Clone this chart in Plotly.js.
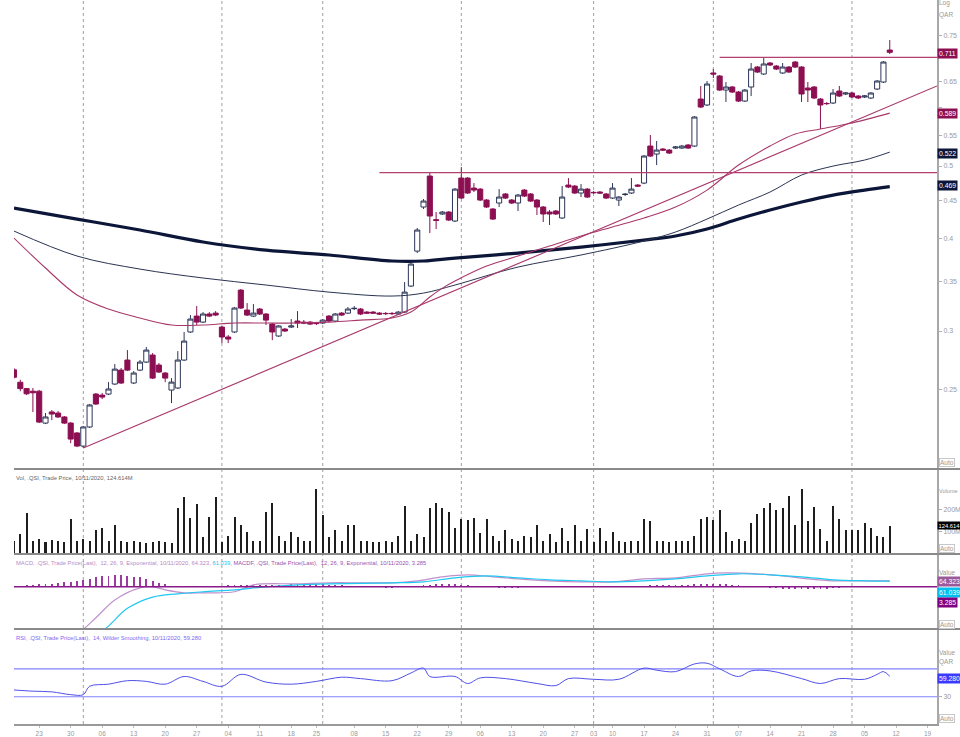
<!DOCTYPE html>
<html><head><meta charset="utf-8">
<script src="https://cdn.plot.ly/plotly-3.0.1.min.js"></script>
<style>html,body{margin:0;padding:0;background:#fff;overflow:hidden}#chart{width:960px;height:737px}</style>
</head><body><div id="chart"></div>
<script>
// ---- Price data (QAR), daily candles ----
const openP  = [0.266,0.256,0.251,0.249,0.249,0.2256,0.2335,0.2327,0.2299,0.2256,0.2188,0.2101,0.2229,0.2468,0.246,0.2468,0.2546,0.2658,0.2742,0.2554,0.2658,0.2725,0.2785,0.27,0.2634,0.2499,0.2515,0.2742,0.2991,0.3142,0.3084,0.3162,0.3171,0.3037,0.2945,0.2991,0.3405,0.3201,0.3142,0.3211,0.3162,0.3065,0.2954,0.3018,0.3037,0.3094,0.3084,0.3084,0.3075,0.3075,0.3142,0.3094,0.3171,0.3171,0.3215,0.3211,0.3181,0.3181,0.3171,0.3168,0.3168,0.3162,0.3181,0.3448,0.3842,0.4404,0.4847,0.4235,0.431,0.4336,0.4217,0.4817,0.4817,0.467,0.4655,0.45,0.4377,0.4459,0.4585,0.45,0.4459,0.4641,0.4585,0.45,0.4404,0.4336,0.435,0.4257,0.4714,0.4699,0.4599,0.4655,0.4608,0.4613,0.4585,0.4528,0.45,0.4578,0.4599,0.4714,0.4743,0.5319,0.5189,0.527,0.5253,0.5286,0.5286,0.5336,0.5319,0.6152,0.604,0.6669,0.6607,0.6326,0.6386,0.6287,0.6114,0.6386,0.6793,0.6648,0.6878,0.6814,0.6669,0.6793,0.6899,0.6793,0.6366,0.6386,0.6152,0.6068,0.6077,0.6307,0.6249,0.6268,0.621,0.6191,0.6172,0.6346,0.6485,0.716];
const highP  = [0.2675,0.258,0.2515,0.2515,0.25,0.2327,0.2349,0.2342,0.2306,0.2263,0.2194,0.2236,0.2393,0.2476,0.2476,0.2561,0.2708,0.2675,0.2828,0.265,0.2742,0.2855,0.2802,0.2717,0.2642,0.2593,0.2819,0.2991,0.3152,0.3241,0.3181,0.3181,0.3191,0.3047,0.2963,0.3231,0.3416,0.3271,0.3261,0.3221,0.3171,0.3075,0.3056,0.3028,0.3113,0.3191,0.3103,0.3094,0.3084,0.3113,0.3152,0.3171,0.3181,0.3231,0.3241,0.3221,0.3191,0.3191,0.3181,0.3181,0.3181,0.3191,0.3491,0.3714,0.4127,0.4514,0.4893,0.4336,0.435,0.435,0.467,0.4984,0.4832,0.4743,0.467,0.4514,0.439,0.4655,0.4599,0.4514,0.4585,0.4655,0.4599,0.4514,0.4418,0.4363,0.4363,0.4699,0.4817,0.4714,0.4728,0.467,0.4627,0.4627,0.4599,0.4743,0.4556,0.4599,0.4817,0.4728,0.5173,0.5504,0.5402,0.5286,0.527,0.5319,0.5336,0.5353,0.5837,0.6406,0.6505,0.6751,0.6628,0.6485,0.6406,0.6307,0.6346,0.6878,0.6814,0.7007,0.6899,0.6836,0.6878,0.6814,0.692,0.6814,0.6485,0.6406,0.6172,0.6096,0.6346,0.6406,0.6287,0.6287,0.6229,0.6229,0.6287,0.6525,0.692,0.7385];
const lowP   = [0.259,0.249,0.246,0.2335,0.2256,0.2249,0.2277,0.2292,0.2249,0.212,0.2094,0.2088,0.2222,0.2386,0.243,0.246,0.2538,0.2546,0.265,0.2546,0.265,0.2717,0.2585,0.2634,0.2561,0.24,0.2507,0.2734,0.2982,0.3056,0.3075,0.3132,0.3142,0.289,0.289,0.2982,0.3211,0.3142,0.3132,0.3152,0.3056,0.2917,0.2945,0.2991,0.3028,0.3028,0.3065,0.3056,0.3056,0.3065,0.3084,0.3084,0.3142,0.3162,0.3201,0.3152,0.3162,0.3162,0.3152,0.3152,0.3152,0.3152,0.3171,0.3437,0.3819,0.4377,0.4063,0.4114,0.4297,0.4217,0.4204,0.4514,0.4585,0.4613,0.4486,0.439,0.423,0.4404,0.4514,0.4445,0.435,0.4542,0.4473,0.4297,0.4204,0.4165,0.4297,0.4243,0.467,0.4585,0.4542,0.4528,0.4585,0.4585,0.4514,0.4514,0.4418,0.4556,0.4585,0.4685,0.4728,0.5141,0.5015,0.5237,0.5189,0.527,0.527,0.527,0.5303,0.5983,0.6021,0.6566,0.6307,0.6096,0.6268,0.6096,0.6096,0.621,0.6669,0.6628,0.6814,0.673,0.6648,0.6669,0.6772,0.6096,0.6096,0.6152,0.5607,0.604,0.6058,0.6191,0.6229,0.6172,0.6152,0.6172,0.6152,0.6326,0.6465,0.7073];
const closeP = [0.26,0.251,0.247,0.2478,0.2263,0.2299,0.232,0.2299,0.2256,0.2147,0.2101,0.2229,0.2386,0.2393,0.2445,0.2507,0.2666,0.2554,0.2658,0.2634,0.2725,0.2828,0.2593,0.2642,0.2593,0.2561,0.2742,0.2908,0.3113,0.3084,0.3162,0.3142,0.3152,0.2945,0.2926,0.3221,0.3221,0.3152,0.3171,0.3162,0.3103,0.2991,0.3047,0.3,0.3047,0.3075,0.3075,0.3065,0.307,0.3103,0.3094,0.3162,0.3152,0.3211,0.3218,0.3162,0.3171,0.3171,0.3162,0.3166,0.3166,0.3181,0.3384,0.3691,0.4101,0.4486,0.4283,0.4225,0.4336,0.423,0.4655,0.4528,0.4599,0.4641,0.45,0.4404,0.4243,0.4542,0.4528,0.4459,0.457,0.4556,0.4486,0.4404,0.431,0.431,0.431,0.4542,0.4685,0.4599,0.4655,0.4542,0.4604,0.4599,0.4528,0.467,0.4542,0.4582,0.4655,0.4699,0.5157,0.5157,0.5253,0.5253,0.5205,0.5303,0.5319,0.5286,0.5819,0.6002,0.6445,0.6648,0.6326,0.6386,0.6287,0.6114,0.6326,0.6751,0.6689,0.6857,0.6836,0.6751,0.6793,0.6689,0.6793,0.6249,0.6326,0.6172,0.604,0.6066,0.6268,0.621,0.6268,0.6191,0.6172,0.621,0.6268,0.6505,0.6899,0.711];

// ---- Moving averages read at sample days ----
const maLongDay = [0,10,20,30,40,50,60,65,70,80,90,100,105,110,115,120,125,130,135,139];
const maLongVal = [0.439,0.4243,0.4101,0.3952,0.3854,0.3796,0.3726,0.3726,0.376,0.3819,0.389,0.3976,0.4026,0.4114,0.4243,0.4363,0.4473,0.457,0.4641,0.469];
const maMidDay = [0,10,20,30,40,50,60,65,70,80,90,100,105,110,115,120,125,130,135,139];
const maMidVal = [0.4088,0.3784,0.3634,0.3535,0.3459,0.3384,0.3343,0.3374,0.3459,0.3657,0.3796,0.3964,0.4076,0.4243,0.4431,0.4613,0.4862,0.4999,0.5093,0.522];
const maShortDay = [0,5,10,15,20,25,30,35,40,45,50,55,60,63,66,68,70,75,80,85,90,95,100,105,110,115,120,124,128,133,139];
const maShortVal = [0.4001,0.3646,0.3354,0.3211,0.3123,0.3056,0.3056,0.3075,0.3075,0.3075,0.3084,0.3103,0.3123,0.3181,0.3333,0.3426,0.3502,0.3668,0.3784,0.3903,0.4026,0.414,0.4257,0.4404,0.4641,0.5015,0.5319,0.5521,0.5607,0.5713,0.589];
// drawn trend line & horizontal levels
const trendDay = [11,146.5];
const trendVal = [0.2088,0.6406];
const levelLowDay = [58,146.5], levelLow = [0.49,0.49];
const levelHighDay = [112,146.5], levelHigh = [0.70,0.70];

// ---- Volume (millions) ----
const volume = [60,90,185,60,70,55,65,60,55,160,60,70,60,110,120,60,130,60,55,60,55,50,55,60,55,50,210,260,165,225,75,170,260,55,80,170,130,100,60,60,190,230,80,60,100,75,60,60,295,175,75,110,60,130,130,60,60,55,55,60,55,80,220,60,90,75,210,230,210,190,120,160,155,165,95,160,80,60,110,70,60,80,75,130,60,90,55,120,60,130,60,115,55,120,60,100,60,55,60,60,160,150,60,60,55,60,60,60,80,160,170,155,200,100,60,70,60,140,180,210,230,200,210,265,130,295,150,215,115,60,220,160,110,110,110,140,120,80,75,125];

// ---- MACD (12,26,9) ----
const macdDay = [0,5,10,13,16,20,22,24,27,30,35,38,45,50,55,60,64,68,72,76,80,85,90,95,100,105,110,113,118,122,126,130,135,139];
const macdVal = [-600,-600,-500,-330,-140,-11,0,-32,-64,-64,-53,21,32,43,43,43,64,107,128,107,85,64,53,53,85,96,139,149,139,117,85,64,64,64.323];
const signalDay = [0,10,14,18,22,26,30,35,40,45,50,60,65,70,75,80,85,90,95,100,105,110,115,120,125,130,135,139];
const signalVal = [-500,-560,-470,-230,-110,-75,-53,-32,0,21,32,43,53,96,117,96,75,64,53,64,85,117,139,128,107,75,64,61.039];
const macdHist = [10,10,15,20,25,30,35,45,50,55,65,75,85,100,115,120,125,128,120,110,100,80,60,40,25,10,5,0,0,0,5,5,10,10,15,15,20,20,20,15,15,15,20,20,25,25,25,30,30,30,20,20,15,10,10,5,0,-5,-5,-10,-10,-5,0,5,10,15,20,25,25,25,25,20,15,10,5,0,-5,-10,-10,-10,-10,-5,-5,-5,-5,-5,-5,-5,0,0,0,0,0,5,5,5,5,5,5,5,10,15,20,20,20,20,20,20,25,25,30,30,30,25,20,15,10,5,0,-5,-10,-15,-20,-25,-25,-25,-25,-25,-25,-20,-15,-10,-5,0,0,0,0,0,2,3.285];

// ---- RSI (14) ----
const rsiDay = [0,3,6,9,11,12,15,18,21,24,27,30,33,36,40,44,48,52,55,60,63,65,66,70,72,74,78,83,86,88,92,96,100,102,105,108,110,112,115,117,120,125,128,131,135,137,138,139];
const rsiVal = [39.7,38,37,33,33,45,48,53,52,48,59,52,45,62,51,48,52,58,56,53,64,71,59,59,49,57,56,49,46,56,55,55,71,68,66,77,78,70,59,67,67,56,49,56,55,62,66,59.28];

// ---- Axis labels ----
const tickDay  = [4,9,14,19,24,29,34,39,44,48,54,59,64,69,74,79,84,89,92,95,100,105,110,115,120,125,130,135,140,145];
const tickText = ["23","30","06","13","20","27","04","11","18","25","08","15","22","29","06","13","20","27","03","10","17","24","31","07","14","21","28","05","12","19"];
const monthStartDay = [11,33,49,71,92,111,133];
const priceTicks = [0.25,0.3,0.35,0.4,0.45,0.5,0.55,0.6,0.65,0.7,0.75];
const priceTickText = ["0.25","0.3","0.35","0.4","0.45","0.5","0.55","","0.65","","0.75"];

const days = closeP.map((_, i) => i);

const NAVY = '#0c1638', MAROON = '#8c0f52', PINK = '#a8386a';
const FONT = 'Liberation Sans, Arial, sans-serif';
const GREY = '#9a9a9a';

const traces = [
  {type:'candlestick', x:days, open:openP, high:highP, low:lowP, close:closeP, xaxis:'x', yaxis:'y',
   increasing:{line:{color:'#2c3658', width:1}, fillcolor:'#ffffff'},
   decreasing:{line:{color:MAROON, width:1}, fillcolor:MAROON}, whiskerwidth:0, hoverinfo:'skip'},
  {type:'scatter', mode:'lines', x:maLongDay, y:maLongVal, line:{color:NAVY, width:3.2, shape:'spline'}, yaxis:'y', hoverinfo:'skip'},
  {type:'scatter', mode:'lines', x:maMidDay, y:maMidVal, line:{color:'#2a3452', width:1, shape:'spline'}, yaxis:'y', hoverinfo:'skip'},
  {type:'scatter', mode:'lines', x:maShortDay, y:maShortVal, line:{color:PINK, width:1.1, shape:'spline'}, yaxis:'y', hoverinfo:'skip'},
  {type:'scatter', mode:'lines', x:trendDay, y:trendVal, line:{color:PINK, width:1.1}, yaxis:'y', hoverinfo:'skip'},
  {type:'scatter', mode:'lines', x:levelLowDay, y:levelLow, line:{color:'#b3416f', width:1.2}, yaxis:'y', hoverinfo:'skip'},
  {type:'scatter', mode:'lines', x:levelHighDay, y:levelHigh, line:{color:'#b3416f', width:1.2}, yaxis:'y', hoverinfo:'skip'},
  {type:'bar', x:days, y:volume, yaxis:'y2', marker:{color:'#1e1e1e'}, width:0.32, hoverinfo:'skip'},
  {type:'bar', x:days, y:macdHist, yaxis:'y3', marker:{color:'#9b3aa0'}, width:0.3, hoverinfo:'skip'},
  {type:'scatter', mode:'lines', x:macdDay, y:macdVal, yaxis:'y3', line:{color:'#c090cc', width:1.2, shape:'spline'}, hoverinfo:'skip'},
  {type:'scatter', mode:'lines', x:signalDay, y:signalVal, yaxis:'y3', line:{color:'#1ec8f0', width:1.2, shape:'spline'}, hoverinfo:'skip'},
  {type:'scatter', mode:'lines', x:[0,146.5], y:[0,0], yaxis:'y3', line:{color:'#8a1a8a', width:1.5}, hoverinfo:'skip'},
  {type:'scatter', mode:'lines', x:[0,146.5], y:[70,70], yaxis:'y4', line:{color:'#8080ff', width:1.2}, hoverinfo:'skip'},
  {type:'scatter', mode:'lines', x:[0,146.5], y:[30,30], yaxis:'y4', line:{color:'#8080ff', width:1.2}, hoverinfo:'skip'},
  {type:'scatter', mode:'lines', x:rsiDay, y:rsiVal, yaxis:'y4', line:{color:'#5050e8', width:1, shape:'spline'}, hoverinfo:'skip'}
];

const H = 724; // plot pixel height
const py = p => 1 - p / H;

const shapes = [];
monthStartDay.forEach(d => shapes.push({type:'line', xref:'x', yref:'paper', x0:d, x1:d, y0:0, y1:1,
  line:{color:'#a0a0a0', width:1, dash:'dot'}, layer:'below'}));
[469,554,629].forEach(p => shapes.push({type:'line', xref:'paper', yref:'paper', x0:0, x1:1.025, y0:py(p), y1:py(p),
  line:{color:'#8a8a8a', width:2}}));

const ann = [];
function lbl(text, p, bg, size) {
  ann.push({xref:'paper', yref:'paper', x:1.0, y:py(p), xanchor:'left', yanchor:'middle', text:text, showarrow:false,
    font:{family:FONT, size:size||6.8, color:'#ffffff'}, bgcolor:bg, borderpad:size?0.5:1});
}
function side(text, p, color, boxed, size) {
  ann.push({xref:'paper', yref:'paper', x:1.002, y:py(p), xanchor:'left', yanchor:'middle', text:text, showarrow:false,
    font:{family:FONT, size:size||6.5, color:color||GREY}, bordercolor: boxed ? '#c8c8c8' : 'rgba(0,0,0,0)', borderwidth: boxed?1:0, borderpad:0});
}
function head(text, p) {
  ann.push({xref:'paper', yref:'paper', x:0, y:py(p), xanchor:'left', yanchor:'middle', text:text, showarrow:false,
    font:{family:FONT, size:5.8, color:'#555'}});
}
side('Log', 3); side('QAR', 15); side('Auto', 463, GREY, true);
side('Volume', 491, GREY, false, 5.6); side('Auto', 548, GREY, true);
side('Value', 572); side('Auto', 624, GREY, true);
side('Value', 652); side('QAR', 662); side('Auto', 718, GREY, true);
lbl('0.711', 53, MAROON); lbl('0.589', 113, MAROON); lbl('0.522', 153, NAVY); lbl('0.469', 186, NAVY);
lbl('124.614', 525, '#000000', 5.8);
lbl('64.323', 581, '#9a5a9a'); lbl('61.039', 592, '#00bff0'); lbl('3.285', 602, '#800080');
lbl('59.280', 678, '#3a3aff');
head('<span style="color:#666">Vol, .QSI, Trade Price, 10/11/2020, 124.614M</span>', 478);
head('<span style="color:#b889c4">MACD, .QSI, Trade Price(Last),  12, 26, 9, Exponential, 10/11/2020, 64.323, </span><span style="color:#22c4ee">61.039</span><span style="color:#a04fae">, MACDF, .QSI, Trade Price(Last),  12, 26, 9, Exponential, 10/11/2020, 3.285</span>', 563);
head('<span style="color:#7a6af0">RSI, .QSI, Trade Price(Last),  14, Wilder Smoothing, 10/11/2020, 59.280</span>', 638);

const yAxCommon = {side:'right', showgrid:false, zeroline:false, showline:true, linecolor:'#a8a8a8', linewidth:2,
  ticks:'outside', ticklen:3, tickcolor:'#b0b0b0', tickfont:{family:FONT, size:7, color:GREY}, fixedrange:true};

const layout = {
  width:960, height:737, margin:{l:14, r:23, t:0, b:13},
  paper_bgcolor:'#ffffff', plot_bgcolor:'#ffffff', showlegend:false, hovermode:false, dragmode:false,
  bargap:0, barmode:'overlay', boxgap:0.12, boxgroupgap:0.08,
  xaxis:{range:[0,146.5], anchor:'y4', tickmode:'array', tickvals:tickDay, ticktext:tickText,
    tickfont:{family:FONT, size:6.5, color:GREY}, ticks:'outside', ticklen:2, tickcolor:'#bbb',
    showgrid:false, zeroline:false, showline:true, linecolor:'#9a9a9a', linewidth:2,
    rangeslider:{visible:false}, fixedrange:true},
  yaxis:Object.assign({}, yAxCommon, {domain:[py(469),1], type:'log', range:[Math.log10(0.1957), Math.log10(0.836)],
    tickmode:'array', tickvals:priceTicks, ticktext:priceTickText}),
  yaxis2:Object.assign({}, yAxCommon, {domain:[py(554),py(469)], range:[0,386], tickmode:'array', tickvals:[100,200], ticktext:['100M','200M']}),
  yaxis3:Object.assign({}, yAxCommon, {domain:[py(629),py(554)], range:[-450,350], showticklabels:false, ticks:''}),
  yaxis4:Object.assign({}, yAxCommon, {domain:[0,py(629)], range:[-9,127], tickmode:'array', tickvals:[30], ticktext:['30']}),
  shapes:shapes, annotations:ann
};

Plotly.newPlot('chart', traces, layout, {staticPlot:true, displayModeBar:false});
</script></body></html>
